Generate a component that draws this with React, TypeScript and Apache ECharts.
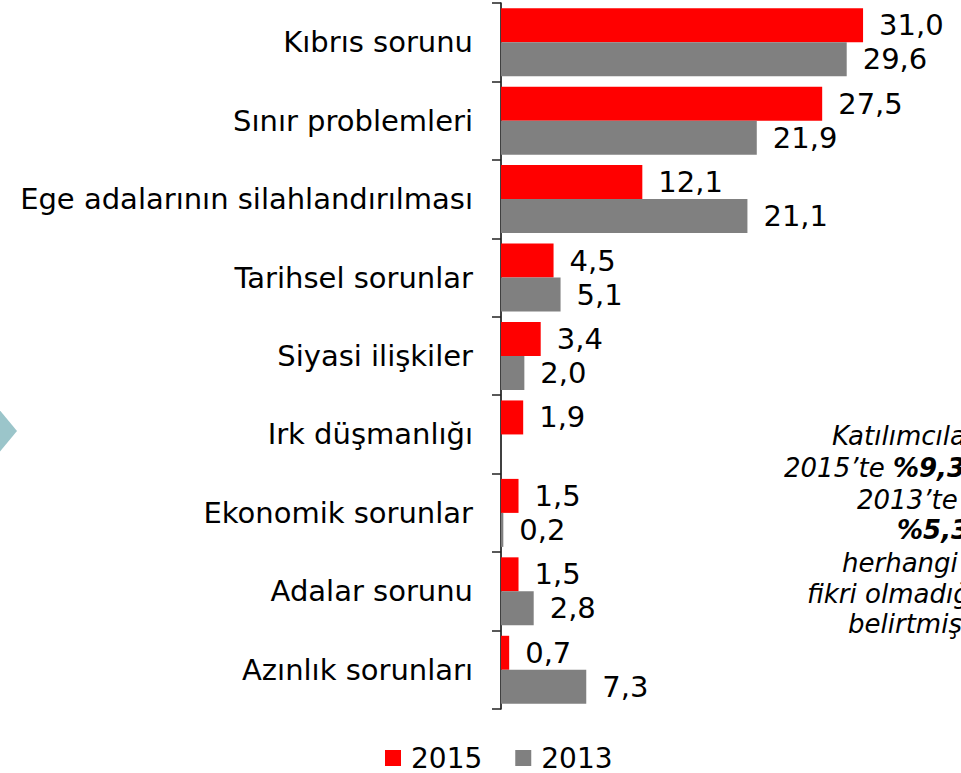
import React, { useEffect, useRef } from "react";
import * as echarts from "echarts";

const categories = [
  "Kıbrıs sorunu",
  "Sınır problemleri",
  "Ege adalarının silahlandırılması",
  "Tarihsel sorunlar",
  "Siyasi ilişkiler",
  "Irk düşmanlığı",
  "Ekonomik sorunlar",
  "Adalar sorunu",
  "Azınlık sorunları",
];
const values2015 = [31.0, 27.5, 12.1, 4.5, 3.4, 1.9, 1.5, 1.5, 0.7];
const values2013: (number | null)[] = [29.6, 21.9, 21.1, 5.1, 2.0, null, 0.2, 2.8, 7.3];
const seriesNames = ["2015", "2013"];

const FONT = "'DejaVu Sans', Verdana, sans-serif";

export default function App() {
  const ref = useRef<HTMLDivElement>(null);
  useEffect(() => {
    if (!ref.current) return;
    const chart = echarts.init(ref.current, null, { renderer: "svg" });
    const fmt = (p: any) =>
      p.value == null ? "" : Number(p.value).toFixed(1).replace(".", ",");
    const noteStyle = { fontFamily: FONT, fontSize: 26, fontStyle: "italic", fill: "#000" };
    const noteLines: { x: number; y: number; text: string; rich?: boolean }[] = [
      { x: 832, y: 436, text: "Katılımcıların" },
      { x: 784, y: 468, text: "{n|2015’te }{b|%9,3’ü,}", rich: true },
      { x: 857, y: 500, text: "2013’te ise" },
      { x: 897, y: 530, text: "{b|%5,3’ü}", rich: true },
      { x: 842, y: 563, text: "herhangi bir" },
      { x: 807, y: 594, text: "fikri olmadığını" },
      { x: 848, y: 624, text: "belirtmiştir." },
    ];
    chart.setOption({
      animation: false,
      textStyle: { fontFamily: FONT },
      legend: {
        data: seriesNames,
        left: 385,
        top: 744,
        padding: 0,
        icon: "rect",
        itemWidth: 16,
        itemHeight: 16,
        itemGap: 33,
        textStyle: { fontSize: 28, color: "#000", fontFamily: FONT, padding: [0, 0, 0, 5] },
      },
      grid: { left: 501, top: 3, height: 706, width: 459, containLabel: false },
      xAxis: { type: "value", min: 0, max: 39.3, show: false },
      yAxis: {
        type: "category",
        data: categories,
        inverse: true,
        axisLine: { show: true, lineStyle: { color: "#000", width: 1.5 } },
        axisTick: { show: true, length: 9, lineStyle: { color: "#222", width: 1.5 } },
        axisLabel: { color: "#000", fontSize: 29, margin: 28, fontFamily: FONT },
        splitLine: { show: false },
      },
      series: [
        {
          name: seriesNames[0],
          type: "bar",
          data: values2015,
          barWidth: 34,
          barGap: "0%",
          itemStyle: { color: "#FF0000" },
          label: { show: true, position: "right", distance: 16, fontSize: 29, color: "#000", fontFamily: FONT, formatter: fmt },
        },
        {
          name: seriesNames[1],
          type: "bar",
          data: values2013.map((v) => (v == null ? "-" : v)),
          barWidth: 34,
          barGap: "0%",
          itemStyle: { color: "#808080" },
          label: { show: true, position: "right", distance: 16, fontSize: 29, color: "#000", fontFamily: FONT, formatter: fmt },
        },
      ],
      graphic: [
        {
          type: "polygon",
          shape: { points: [[-12, 396], [17, 431], [-12, 466]] },
          style: { fill: "#9BC5CA" },
        },
        ...noteLines.map((l) => ({
          type: "text",
          x: l.x,
          y: l.y,
          style: {
            ...noteStyle,
            text: l.text,
            align: "left",
            verticalAlign: "middle",
            rich: l.rich
              ? {
                  n: { fontFamily: FONT, fontSize: 26, fontStyle: "italic", fill: "#000" },
                  b: { fontFamily: FONT, fontSize: 26, fontStyle: "italic", fontWeight: "bold", fill: "#000" },
                }
              : undefined,
          },
        })),
      ],
    });
    return () => chart.dispose();
  }, []);
  return (
    <div
      ref={ref}
      style={{ position: "fixed", left: 0, top: 0, width: 961, height: 773, background: "#fff" }}
    />
  );
}
